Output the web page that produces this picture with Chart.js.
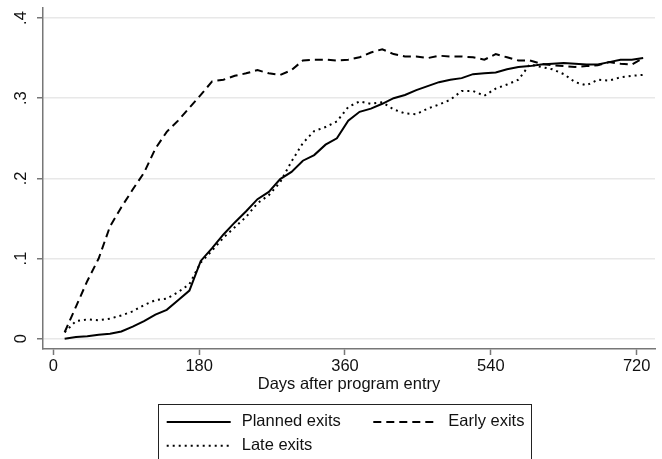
<!DOCTYPE html>
<html>
<head>
<meta charset="utf-8">
<script src="https://cdn.jsdelivr.net/npm/chart.js@4.4.0/dist/chart.umd.min.js"></script>
<style>
  html, body { margin: 0; padding: 0; background: #fff; }
  #wrap { width: 662px; height: 459px; }
</style>
</head>
<body>
<div id="wrap"><canvas id="chart" width="662" height="459"></canvas></div>
<script>
'use strict'
// share of people who have exited, by days after entry
const days = [14, 28, 42, 56, 70, 84, 98, 112, 126, 140, 154, 168, 182, 196, 210, 224, 238, 252,
    266, 280, 294, 308, 322, 336, 350, 364, 378, 392, 406, 420, 434, 448, 462, 476, 490, 504,
    518, 532, 546, 560, 574, 588, 602, 616, 630, 644, 658, 672, 686, 700, 714, 728];

const planned = [0.000, 0.002, 0.003, 0.005, 0.006, 0.009, 0.015, 0.022, 0.030, 0.036, 0.048, 0.060,
    0.097, 0.113, 0.130, 0.145, 0.159, 0.174, 0.183, 0.199, 0.208, 0.222, 0.229, 0.242, 0.250, 0.272,
    0.283, 0.287, 0.293, 0.300, 0.304, 0.310, 0.315, 0.320, 0.323, 0.325, 0.330, 0.331, 0.332, 0.336,
    0.339, 0.340, 0.342, 0.343, 0.344, 0.343, 0.342, 0.342, 0.345, 0.348, 0.348, 0.350];

const early = [0.008, 0.040, 0.072, 0.100, 0.140, 0.164, 0.186, 0.207, 0.237, 0.258, 0.272, 0.288,
    0.304, 0.321, 0.323, 0.328, 0.331, 0.335, 0.331, 0.329, 0.335, 0.347, 0.348, 0.348, 0.347, 0.348,
    0.351, 0.357, 0.361, 0.355, 0.352, 0.352, 0.350, 0.353, 0.352, 0.352, 0.351, 0.348, 0.355, 0.351,
    0.347, 0.347, 0.343, 0.341, 0.340, 0.339, 0.340, 0.341, 0.345, 0.343, 0.342, 0.350];

const late = [0.008, 0.022, 0.024, 0.023, 0.025, 0.029, 0.034, 0.042, 0.048, 0.050, 0.058, 0.068,
    0.095, 0.110, 0.126, 0.139, 0.152, 0.169, 0.179, 0.195, 0.221, 0.244, 0.259, 0.264, 0.271, 0.289,
    0.296, 0.293, 0.295, 0.286, 0.281, 0.280, 0.287, 0.292, 0.298, 0.309, 0.309, 0.303, 0.312, 0.317,
    0.323, 0.342, 0.339, 0.336, 0.330, 0.320, 0.316, 0.323, 0.322, 0.326, 0.328, 0.329];

const xTicks = [0, 180, 360, 540, 720];
const yTicks = [0, 0.1, 0.2, 0.3, 0.4];
const yTickLabels = ['0', '.1', '.2', '.3', '.4'];
const seriesNames = ['Planned exits', 'Early exits', 'Late exits'];

document.addEventListener('DOMContentLoaded', () => {
    const font = '"Liberation Sans", Arial, Helvetica, sans-serif';
    const axisGray = '#777';

    function toPoints(values) {
        return days.map((d, i) => ({x: d, y: values[i]}));
    }

    // stata-like legend: framed box under the axis title, two columns
    const boxLegend = {
        id: 'boxLegend',
        afterDraw(chart) {
            const ctx = chart.ctx;
            const slots = [[166.7, 422], [373.3, 422], [166.7, 445.7]];
            ctx.save();
            ctx.strokeStyle = '#222';
            ctx.lineWidth = 1;
            ctx.strokeRect(158.5, 404.5, 373, 60);
            chart.data.datasets.forEach((ds, i) => {
                const [x, y] = slots[i];
                ctx.beginPath();
                ctx.setLineDash(ds.borderDash || []);
                ctx.lineWidth = ds.borderWidth;
                ctx.strokeStyle = ds.borderColor;
                ctx.moveTo(x, y);
                ctx.lineTo(x + 64, y);
                ctx.stroke();
                ctx.setLineDash([]);
                ctx.fillStyle = '#111';
                ctx.font = '16.5px ' + font;
                ctx.textBaseline = 'middle';
                ctx.textAlign = 'left';
                ctx.fillText(ds.label, x + 75, y - 0.7);
            });
            ctx.restore();
        }
    };

    const ctx = document.getElementById('chart').getContext('2d');

    new Chart(ctx, {
        type: 'line',
        data: {
            datasets: [{
                label: seriesNames[0],
                data: toPoints(planned),
                borderColor: '#000',
                borderWidth: 2,
                borderDash: []
            }, {
                label: seriesNames[1],
                data: toPoints(early),
                borderColor: '#000',
                borderWidth: 2,
                borderDash: [8, 5]
            }, {
                label: seriesNames[2],
                data: toPoints(late),
                borderColor: '#000',
                borderWidth: 2,
                borderDash: [2, 4]
            }]
        },
        options: {
            responsive: false,
            animation: false,
            devicePixelRatio: 1,
            layout: {
                padding: {left: 0, right: 7, top: 8, bottom: 64}
            },
            elements: {
                point: {radius: 0},
                line: {tension: 0, fill: false, borderCapStyle: 'butt'}
            },
            scales: {
                x: {
                    type: 'linear',
                    min: -12.7,
                    max: 742.6,
                    afterBuildTicks: (scale) => {
                        scale.ticks = xTicks.map(v => ({value: v}));
                    },
                    afterFit: (scale) => {
                        scale.height = 46;
                        scale.paddingLeft = 0;
                        scale.paddingRight = 0;
                    },
                    ticks: {
                        color: '#111',
                        padding: 2,
                        maxRotation: 0,
                        font: {family: font, size: 16.5}
                    },
                    grid: {
                        drawOnChartArea: false,
                        drawTicks: true,
                        tickLength: 6,
                        tickColor: axisGray,
                        tickWidth: 1.5
                    },
                    border: {display: true, color: axisGray, width: 1.5},
                    title: {
                        display: true,
                        text: 'Days after program entry',
                        color: '#111',
                        font: {family: font, size: 16.5},
                        padding: {top: 0, bottom: 1}
                    }
                },
                y: {
                    type: 'linear',
                    min: -0.0129,
                    max: 0.4125,
                    afterBuildTicks: (scale) => {
                        scale.ticks = yTicks.map(v => ({value: v}));
                    },
                    afterFit: (scale) => {
                        scale.width = 43;
                        scale.paddingTop = 0;
                        scale.paddingBottom = 0;
                    },
                    ticks: {
                        color: '#111',
                        padding: 9,
                        minRotation: 90,
                        maxRotation: 90,
                        crossAlign: 'center',
                        font: {family: font, size: 16.5},
                        callback: (value) => {
                            const i = yTicks.findIndex(t => Math.abs(t - value) < 1e-9);
                            return i >= 0 ? yTickLabels[i] : '';
                        }
                    },
                    grid: {
                        color: '#e8e8e8',
                        lineWidth: 1.5,
                        drawTicks: true,
                        tickLength: 6,
                        tickColor: axisGray,
                        tickWidth: 1.5
                    },
                    border: {display: true, color: axisGray, width: 1.5}
                }
            },
            plugins: {
                legend: {display: false},
                tooltip: {enabled: false}
            }
        },
        plugins: [boxLegend]
    });
});
</script>
</body>
</html>
